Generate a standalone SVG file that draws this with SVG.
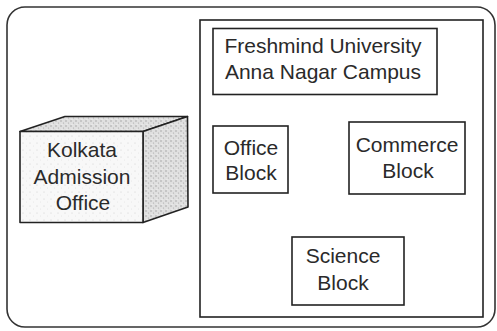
<svg xmlns="http://www.w3.org/2000/svg" width="497" height="331" viewBox="0 0 497 331">
<style>
.box{fill:#fff;stroke:#222;stroke-width:1.6}
.frame{fill:none;stroke:#333;stroke-width:1.6}
.lbl{font-family:"Liberation Sans",Arial,Helvetica,sans-serif;font-size:21px;fill:#2a2a2a;text-anchor:middle}
.edge{stroke:#222;stroke-width:1.6;stroke-linejoin:round}
</style>
<defs>
<pattern id="dense" width="5" height="5" patternUnits="userSpaceOnUse">
<rect width="5" height="5" fill="#e0e0e0"/>
<circle cx="1" cy="1" r="0.7" fill="#999"/>
<circle cx="3.5" cy="3" r="0.6" fill="#aaa"/>
<circle cx="2" cy="4.2" r="0.5" fill="#fafafa"/>
</pattern>
<pattern id="light" width="7" height="7" patternUnits="userSpaceOnUse">
<rect width="7" height="7" fill="#f8f8f8"/>
<circle cx="2" cy="3" r="0.5" fill="#c8c8c8"/>
<circle cx="5.5" cy="6" r="0.4" fill="#d4d4d4"/>
</pattern>
</defs>
<rect id="outer-frame" class="frame" x="7" y="7" width="488" height="320" rx="18"/>
<g id="campus">
<rect class="box" x="200" y="20" width="283" height="297"/>
</g>
<g id="kolkata-office">
<polygon class="edge" fill="url(#dense)" points="20,131.5 65,116.5 187.5,116.5 143,131.5"/>
<polygon class="edge" fill="url(#dense)" points="143,131.5 187.5,116.5 188,207 143,222.5"/>
<rect class="edge" fill="url(#light)" x="20" y="131.5" width="123" height="91"/>
<text class="lbl" x="82" y="157">Kolkata</text>
<text class="lbl" x="82" y="184">Admission</text>
<text class="lbl" x="83" y="210">Office</text>
</g>
<g id="freshmind">
<rect class="box" x="213" y="28.5" width="224" height="66"/>
<text class="lbl" x="323" y="53">Freshmind University</text>
<text class="lbl" x="323" y="78.5">Anna Nagar Campus</text>
</g>
<g id="office-block">
<rect class="box" x="213" y="126" width="75" height="67"/>
<text class="lbl" x="251" y="155">Office</text>
<text class="lbl" x="251" y="180">Block</text>
</g>
<g id="commerce-block">
<rect class="box" x="349" y="122" width="116" height="72"/>
<text class="lbl" x="407" y="152">Commerce</text>
<text class="lbl" x="408" y="178">Block</text>
</g>
<g id="science-block">
<rect class="box" x="292" y="237" width="112" height="68"/>
<text class="lbl" x="343" y="263">Science</text>
<text class="lbl" x="343" y="290">Block</text>
</g>
<g id="connectors"></g>
</svg>
